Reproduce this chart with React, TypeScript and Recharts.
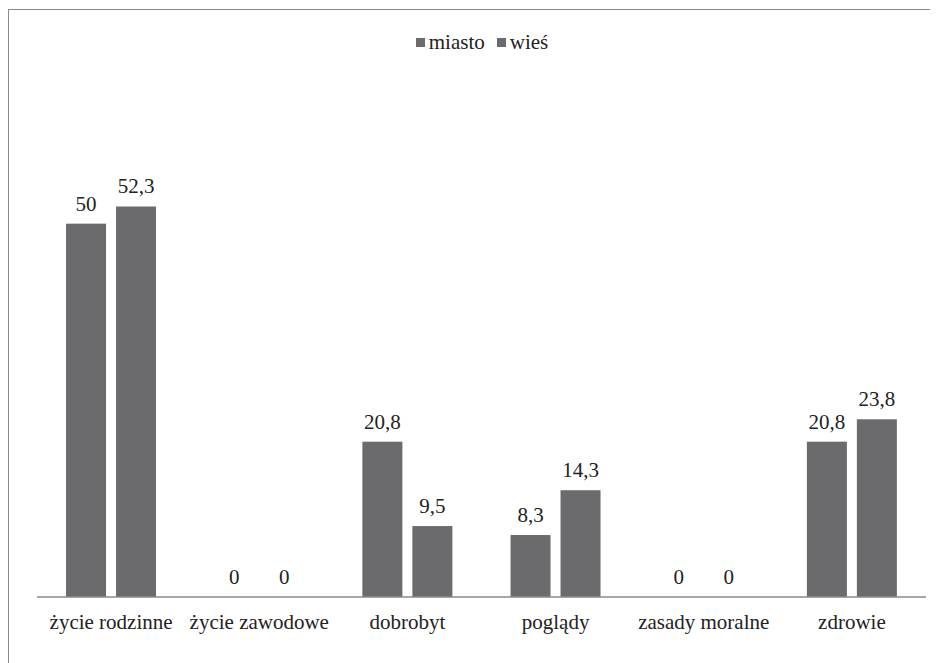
import { BarChart, Bar, XAxis, YAxis } from "recharts";

const categories = [
  "życie rodzinne",
  "życie zawodowe",
  "dobrobyt",
  "poglądy",
  "zasady moralne",
  "zdrowie",
];
const miasto = [50, 0, 20.8, 8.3, 0, 20.8];
const wies = [52.3, 0, 9.5, 14.3, 0, 23.8];

const data = categories.map((name, i) => ({
  name,
  miasto: miasto[i],
  wies: wies[i],
}));

const FONT = "'Times New Roman', Times, 'Liberation Serif', Tinos, 'Noto Serif', FreeSerif, serif";
const BAR = "#6b6b6e";
const TEXT = "#222";

const fmt = (v: any) => String(v).replace(".", ",");

// bar with its value label drawn above, also for zero values
const BarWithLabel = (props: any) => {
  const { x, y, width, height, fill, value } = props;
  const v = Array.isArray(value) ? value[1] - value[0] : value;
  return (
    <g>
      {height > 0 && <rect x={x} y={y} width={width} height={height} fill={fill} />}
      <text
        x={x + width / 2}
        y={y - 13}
        textAnchor="middle"
        fill={TEXT}
        style={{ fontSize: 21, fontFamily: FONT }}
      >
        {fmt(v)}
      </text>
    </g>
  );
};

export default function App() {
  return (
    <div
      style={{
        position: "relative",
        width: 929,
        height: 654,
        marginTop: 1,
        borderTop: "1px solid #8a8a8a",
        borderLeft: "1px solid #8a8a8a",
        background: "#fff",
        overflow: "hidden",
        fontFamily: FONT,
      }}
    >
      <div
        style={{
          position: "absolute",
          top: 20,
          left: 0,
          width: 946,
          display: "flex",
          justifyContent: "center",
          gap: 12,
          fontFamily: FONT,
          fontSize: 21,
          color: TEXT,
        }}
      >
        {["miasto", "wieś"].map((label) => (
          <div key={label} style={{ display: "flex", alignItems: "center", gap: 4 }}>
            <span style={{ width: 9, height: 9, background: BAR, display: "inline-block" }} />
            <span>{label}</span>
          </div>
        ))}
      </div>
      <BarChart
        width={929}
        height={654}
        data={data}
        margin={{ top: 139, right: 12, left: 28, bottom: 37 }}
        barGap={10}
        barCategoryGap="19.6%"
        style={{ fontFamily: FONT }}
      >
        <XAxis
          dataKey="name"
          height={30}
          tickLine={false}
          axisLine={{ stroke: "#8a8a8a", strokeWidth: 1.5 }}
          tick={{ fill: TEXT, fontSize: 21, fontFamily: FONT }}
          tickMargin={11}
          interval={0}
        />
        <YAxis hide domain={[0, 60]} />
        <Bar
          dataKey="miasto"
          name="miasto"
          fill={BAR}
          isAnimationActive={false}
          shape={<BarWithLabel />}
        />
        <Bar
          dataKey="wies"
          name="wieś"
          fill={BAR}
          isAnimationActive={false}
          shape={<BarWithLabel />}
        />
      </BarChart>
    </div>
  );
}
